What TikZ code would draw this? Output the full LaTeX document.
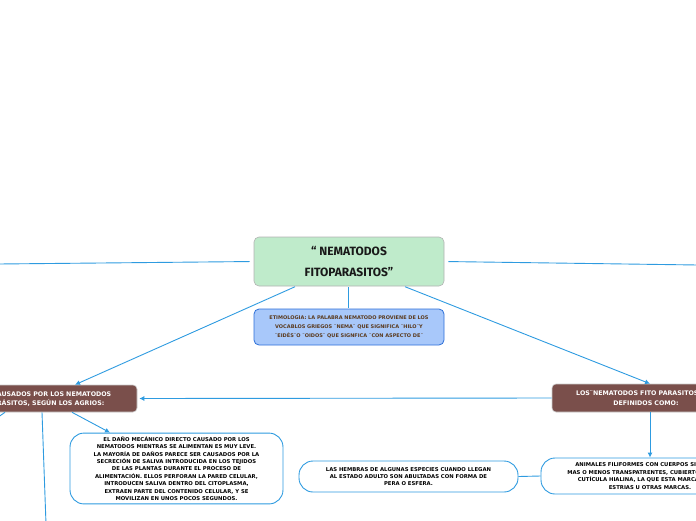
\documentclass[tikz,border=0pt]{standalone}
\usepackage{fontspec}
\setmainfont{DejaVu Sans}
\newfontfamily\titlefont{Fira Sans}
\usetikzlibrary{arrows.meta,positioning}

\definecolor{mapline}{HTML}{2E9BE0}
\definecolor{titlefill}{HTML}{BFEBCB}
\definecolor{etymfill}{HTML}{A8C8FA}
\definecolor{etymdraw}{HTML}{2D6FD8}
\definecolor{brownfill}{HTML}{7A4F4B}
\definecolor{etymtext}{HTML}{5A3A1E}

\tikzset{
  link/.style={draw=mapline, line width=0.9pt},
  linkarrow/.style={link, -{Latex[length=5pt,width=5pt]}},
  titlebox/.style={draw=gray!60, fill=titlefill, rounded corners=5pt, line width=0.6pt,
    align=center, font=\titlefont\bfseries\fontsize{12}{21}\selectfont, text=black!90},
  etymbox/.style={draw=etymdraw, fill=etymfill, rounded corners=5pt, line width=0.8pt,
    align=center, font=\bfseries\fontsize{5}{9}\selectfont, text=etymtext},
  brownbox/.style={draw=gray!40, fill=brownfill, rounded corners=4pt, line width=0.6pt,
    align=center, font=\bfseries\fontsize{6.3}{9.5}\selectfont, text=white},
  notebox/.style={draw=mapline, fill=white, rounded corners=14pt, line width=0.9pt,
    align=center, font=\bfseries\fontsize{5.3}{7.4}\selectfont, text=black}
}

\begin{document}
\begin{tikzpicture}[x=1pt,y=-1pt]
\useasboundingbox (0,0) rectangle (696,520);
\clip (0,0) rectangle (696,520);

% main topic
\node[titlebox, minimum width=190pt, minimum height=49pt] (central) at (349,261.5)
  {“ NEMATODOS\\FITOPARASITOS”};

% etymology
\node[etymbox, minimum width=190pt, minimum height=36pt] (etym) at (349,327)
  {ETIMOLOGIA: LA PALABRA NEMATODO PROVIENE DE LOS\\
   VOCABLOS GRIEGOS ¨NEMA¨ QUE SIGNIFICA ¨HILO¨Y\\
   ¨EIDÉS¨O ¨OIDOS¨ QUE SIGNFICA ¨CON ASPECTO DE¨};

% brown subtopics
\node[brownbox, minimum width=198pt, minimum height=27pt] (danos) at (38,398.5)
  {DAÑOS CAUSADOS POR LOS NEMATODOS\\FITOPARÁSITOS, SEGÚN LOS AGRIOS:};
\node[brownbox, minimum width=188pt, minimum height=28pt] (definidos) at (646,398)
  {LOS¨NEMATODOS FITO PARASITOS SON\\DEFINIDOS COMO:};

% notes
\node[notebox, minimum width=213pt, minimum height=69pt] (dano) at (176.5,468.5)
  {EL DAÑO MECÁNICO DIRECTO CAUSADO POR LOS\\
   NEMATODOS MIENTRAS SE ALIMENTAN ES MUY LEVE.\\
   LA MAYORÍA DE DAÑOS PARECE SER CAUSADOS POR LA\\
   SECRECIÓN DE SALIVA INTRODUCIDA EN LOS TEJIDOS\\
   DE LAS PLANTAS DURANTE EL PROCESO DE\\
   ALIMENTACIÓN. ELLOS PERFORAN LA PARED CELULAR,\\
   INTRODUCEN SALIVA DENTRO DEL CITOPLASMA,\\
   EXTRAEN PARTE DEL CONTENIDO CELULAR, Y SE\\
   MOVILIZAN EN UNOS POCOS SEGUNDOS.};
\node[notebox, minimum width=218pt, minimum height=36pt] (animales) at (650,476)
  {ANIMALES FILIFORMES CON CUERPOS SIN COLOR,\\
   MAS O MENOS TRANSPATRENTES, CUBIERTOS POR UNA\\
   CUTÍCULA HIALINA, LA QUE ESTA MARCADA CON\\
   ESTRIAS U OTRAS MARCAS.};
\node[notebox, minimum width=219pt, minimum height=31pt] (hembras) at (408.5,476.5)
  {LAS HEMBRAS DE ALGUNAS ESPECIES CUANDO LLEGAN\\
   AL ESTADO ADULTO SON ABULTADAS CON FORMA DE\\
   PERA O ESFERA.};

% free ends
\coordinate (leftend) at (-2,264);
\coordinate (rightend) at (698,265);
\coordinate (stubend) at (-6,420);
\coordinate (downend) at (46,524);

% connectors
\draw[link, shorten <=4pt] (central.west) -- (leftend);
\draw[link, shorten <=4pt] (central.east) -- (rightend);
\draw[link, shorten <=1pt, shorten >=1pt] ([xshift=-1pt]central.south) -- ([xshift=-1pt]etym.north);
\draw[linkarrow, shorten <=1pt] ([xshift=-53pt]central.south) -- ([xshift=37pt]danos.north);
\draw[linkarrow, shorten <=1pt] ([xshift=55pt]central.south) -- ([xshift=4pt]definidos.north);
\draw[linkarrow, shorten >=2pt] (definidos.west) -- (danos.east);
\draw[link] ([xshift=-33pt]danos.south) -- (stubend);
\draw[link] ([xshift=4pt]danos.south) -- (downend);
\draw[linkarrow] ([xshift=34pt]danos.south) -- ([xshift=-66.5pt]dano.north);
\draw[linkarrow] ([xshift=4pt]definidos.south) -- (animales.north);
\draw[link] (animales.west) -- (hembras.east);
\end{tikzpicture}
\end{document}
